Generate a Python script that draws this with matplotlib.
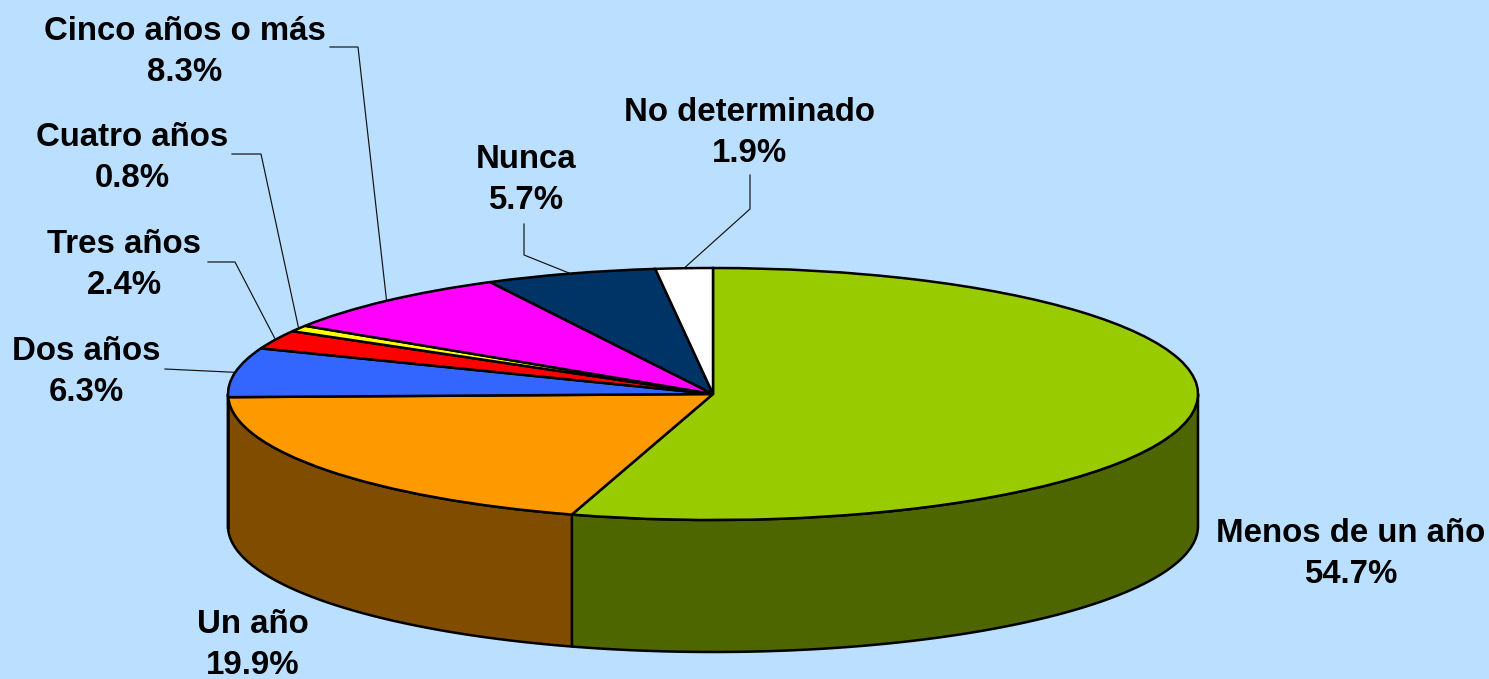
import numpy as np
import matplotlib
matplotlib.use("Agg")
import matplotlib.pyplot as plt

# --- data -----------------------------------------------------------------
categories = ["Menos de un año", "Un año", "Dos años", "Tres años",
              "Cuatro años", "Cinco años o más", "Nunca", "No determinado"]
values = [54.7, 19.9, 6.3, 2.4, 0.8, 8.3, 5.7, 1.9]
top_colors = ["#99CC00", "#FF9900", "#3366FF", "#FF0000",
              "#FFFF00", "#FF00FF", "#003366", "#FFFFFF"]
side_colors = ["#4D6600", "#804D00", "#1A3380", "#800000",
               "#808000", "#800080", "#001A33", "#808080"]

# --- layout (pixels of the 1489x679 canvas) --------------------------------
W, H = 1489, 679
BG = "#BBE0FF"
cx, cy, rx, ry, depth = 713, 394, 485, 126, 132
LW = 1.8

label_pos = {
    "Menos de un año": (1351, 554),
    "Un año": (253, 645),
    "Dos años": (86, 372),
    "Tres años": (124, 265),
    "Cuatro años": (132, 158),
    "Cinco años o más": (185, 52),
    "Nunca": (526, 180),
    "No determinado": (750, 133),
}
# leader elbows, ending on the rim at the slice's mid angle
leaders = {
    "Dos años": [(165, 369)],
    "Tres años": [(208, 262), (235, 262)],
    "Cuatro años": [(232, 154), (261, 154)],
    "Cinco años o más": [(330, 47), (358, 47)],
    "Nunca": [(524, 224), (524, 255)],
    "No determinado": [(750, 175), (750, 209)],
}

plt.rcParams["font.family"] = ["Liberation Sans", "DejaVu Sans"]
fig = plt.figure(figsize=(W / 100, H / 100), dpi=100, facecolor=BG)
ax = fig.add_axes([0, 0, 1, 1])
ax.patch.set_alpha(0)

# slices: unit pie, squeezed into an ellipse by the axis limits
ax.pie(values, colors=top_colors, startangle=90, counterclock=False,
       wedgeprops=dict(edgecolor="black", linewidth=LW, zorder=3))
ax.set_aspect("auto")
ax.set_xlim((0 - cx) / rx, (W - cx) / rx)
ax.set_ylim((cy - H) / ry, cy / ry)
ax.axis("off")

d = depth / ry
edges = np.concatenate([[0], np.cumsum(values)]) / sum(values) * 2 * np.pi

# side walls on the front half (clockwise angle from the top: 90..270 deg)
for a0, a1, col in zip(edges[:-1], edges[1:], side_colors):
    lo, hi = max(a0, np.pi / 2), min(a1, 3 * np.pi / 2)
    if lo >= hi:
        continue
    t = np.linspace(lo, hi, 200)
    x, y = np.sin(t), np.cos(t)
    ax.fill(np.r_[x, x[::-1]], np.r_[y, y[::-1] - d],
            facecolor=col, edgecolor="black", linewidth=LW,
            joinstyle="round", zorder=2)

def to_data(p):
    return (p[0] - cx) / rx, (cy - p[1]) / ry

# leader lines
for name, pts in leaders.items():
    i = categories.index(name)
    mid = (edges[i] + edges[i + 1]) / 2
    xs, ys = zip(*[to_data(p) for p in pts])
    ax.plot(list(xs) + [np.sin(mid)], list(ys) + [np.cos(mid)],
            color="#111111", linewidth=0.85, zorder=4, solid_joinstyle="miter")

# labels
for name, val in zip(categories, values):
    x, y = to_data(label_pos[name])
    ax.text(x, y, f"{name}\n{val:.1f}%", ha="center", va="center",
            fontsize=23.8, fontweight="bold", color="black",
            linespacing=1.45, zorder=5)

fig.savefig("out.png", dpi=100, facecolor=BG)
